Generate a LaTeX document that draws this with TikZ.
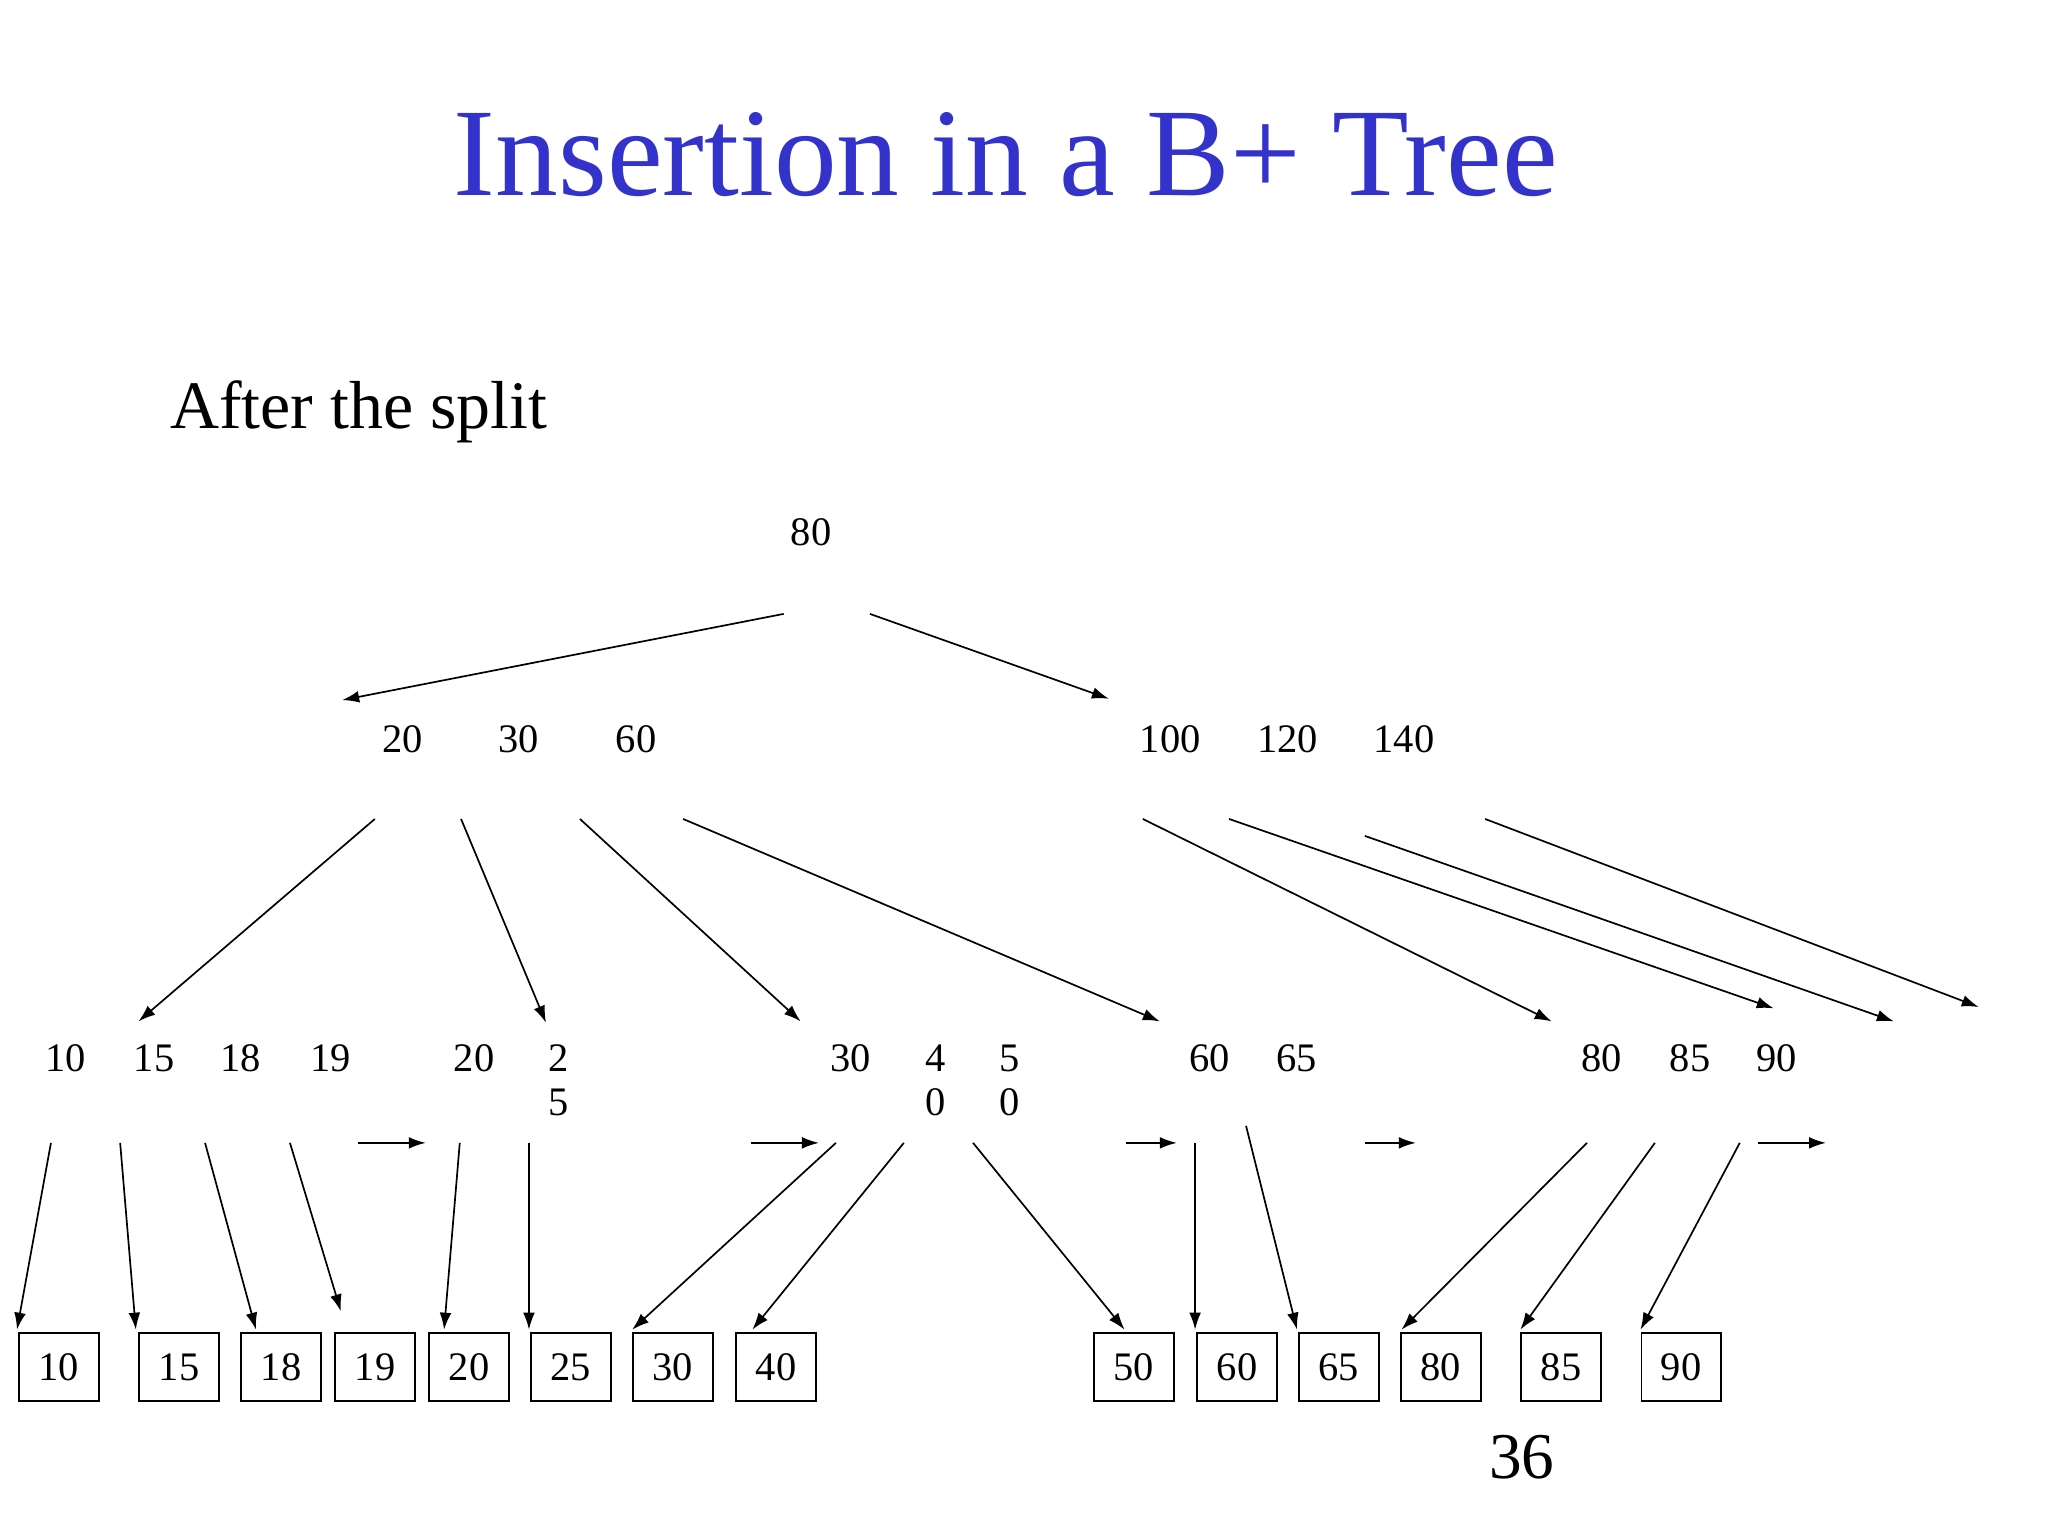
\documentclass[tikz,border=0pt]{standalone}
\usepackage{fontspec}
\setmainfont{Liberation Serif}
\usetikzlibrary{arrows.meta}
\definecolor{ttl}{RGB}{51,51,204}
\tikzset{
 ar/.style={draw, line width=1.3pt, -{Latex[length=13pt,width=9pt]}},
 num/.style={font=\fontsize{31}{31}\selectfont, inner sep=0pt, anchor=base},
 box/.style={draw, line width=1.3pt, minimum width=61pt, minimum height=52pt, inner sep=0pt, font=\fontsize{31}{31}\selectfont, anchor=north west}
}
\begin{document}
\begin{tikzpicture}[x=1pt,y=-1pt]
\useasboundingbox[fill=white] (0,0) rectangle (1568,1176);
\node[font=\fontsize{96}{96}\selectfont, text=ttl, anchor=base] (title) at (770,150) {Insertion in a B+ Tree};
\node[font=\fontsize{52}{52}\selectfont, anchor=base west, inner sep=0pt] (sub) at (130,328) {After the split};
\node[num] (root) at (621,418) {80};
% level 2
\foreach \t/\x in {20/308,30/397,60/487,100/896,120/986,140/1075}
  \node[num] (i\t) at (\x,576) {\t};
% leaves keys
\foreach \t/\x [count=\i] in {10/50,15/118,18/184,19/253,20/363,30/651,60/926,65/993,80/1226,85/1294,90/1360}
  \node[num] (k\i) at (\x,820) {\t};
\node[num] at (428,820) {2}; \node[num] at (428,854) {5};
\node[num] at (716,820) {4}; \node[num] at (716,854) {0};
\node[num] at (773,820) {5}; \node[num] at (773,854) {0};
\node[font=\fontsize{50}{50}\selectfont, anchor=base] (pg) at (1165,1132) {36};
% boxes
\foreach \t/\x in {10/14,15/106,18/184,19/256,20/328,25/406,30/484,40/563,50/837,60/916,65/994,80/1072,85/1164,90/1256}
  \node[box] (b\t) at (\x,1020) {\t};
% arrows
\draw[ar] (600,470) -- (262,536);
\draw[ar] (666,470) -- (849,535);
\draw[ar] (287,627) -- (106,782);
\draw[ar] (353,627) -- (418,783);
\draw[ar] (444,627) -- (613,782);
\draw[ar] (523,627) -- (888,782);
\draw[ar] (875,627) -- (1188,782);
\draw[ar] (941,627) -- (1358,772);
\draw[ar] (1045,640) -- (1450,782);
\draw[ar] (1137,627) -- (1515,771);
\foreach \a/\b in {274/326,575/627,862/901,1045/1084,1346/1398}
  \draw[ar] (\a,875) -- (\b,875);
\draw[ar] (39,875) -- (13,1018);
\draw[ar] (92,875) -- (104,1018);
\draw[ar] (157,875) -- (196,1018);
\draw[ar] (222,875) -- (261,1004);
\draw[ar] (352,875) -- (340,1018);
\draw[ar] (405,875) -- (405,1018);
\draw[ar] (640,875) -- (484,1018);
\draw[ar] (692,875) -- (576,1018);
\draw[ar] (745,875) -- (861,1018);
\draw[ar] (915,875) -- (915,1018);
\draw[ar] (954,862) -- (993,1018);
\draw[ar] (1215,875) -- (1073,1018);
\draw[ar] (1267,875) -- (1164,1018);
\draw[ar] (1332,875) -- (1256,1018);
\end{tikzpicture}
\end{document}
